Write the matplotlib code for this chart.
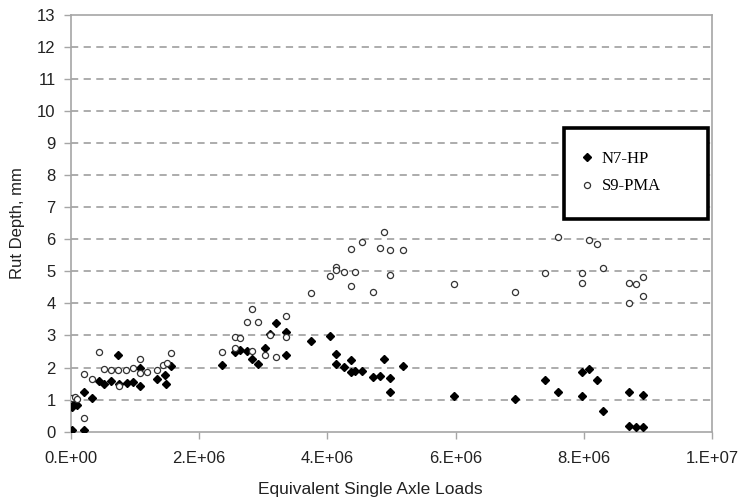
import numpy as np
import matplotlib
matplotlib.use("Agg")
import matplotlib.pyplot as plt
from matplotlib.patches import Rectangle
from matplotlib.ticker import FixedLocator

# ESAL (millions) and rut depth (mm)
n7_esal = [0.02, 0.20, 0.02, 0.05, 0.10, 0.20, 0.32, 0.43, 0.52, 0.63, 0.74,
           0.75, 0.87, 0.97, 1.08, 1.08, 1.34, 1.46, 1.48, 1.56,
           2.35, 2.56, 2.64, 2.74, 2.82, 2.92, 3.03, 3.10, 3.20, 3.35, 3.35,
           3.74, 4.04, 4.13, 4.13, 4.26, 4.37, 4.37, 4.43, 4.54, 4.71, 4.82,
           4.89, 4.97, 4.97, 5.18, 5.98, 6.92, 7.39, 7.59, 7.97, 7.97, 8.08,
           8.20, 8.30, 8.71, 8.93, 8.71, 8.81, 8.93]
n7_rut = [0.05, 0.05, 0.78, 0.85, 0.83, 1.25, 1.06, 1.58, 1.50, 1.58, 2.39,
          1.48, 1.51, 1.54, 1.42, 2.00, 1.63, 1.78, 1.50, 2.05,
          2.08, 2.49, 2.55, 2.52, 2.27, 2.11, 2.60, 3.05, 3.40, 3.12, 2.39,
          2.83, 2.99, 2.43, 2.11, 2.03, 2.22, 1.85, 1.90, 1.90, 1.72, 1.75,
          2.28, 1.66, 1.24, 2.06, 1.11, 1.03, 1.61, 1.24, 1.87, 1.11, 1.94,
          1.61, 0.66, 1.24, 1.15, 0.18, 0.16, 0.14]

s9_esal = [0.02, 0.06, 0.10, 0.20, 0.20, 0.32, 0.43, 0.52, 0.63, 0.74, 0.75,
           0.86, 0.97, 1.08, 1.07, 1.18, 1.34, 1.43, 1.49, 1.56,
           2.35, 2.56, 2.64, 2.56, 2.74, 2.83, 2.92, 2.83, 3.03, 3.10, 3.20,
           3.35, 3.35, 3.74, 4.04, 4.13, 4.13, 4.26, 4.37, 4.37, 4.43, 4.54,
           4.71, 4.82, 4.89, 4.97, 4.97, 5.18, 5.98, 6.93, 7.39, 7.59, 7.97,
           7.97, 8.08, 8.20, 8.30, 8.71, 8.81, 8.93, 8.71, 8.93]
s9_rut = [1.04, 1.07, 1.02, 0.44, 1.79, 1.65, 2.47, 1.95, 1.92, 1.92, 1.43,
          1.92, 2.00, 2.27, 1.84, 1.87, 1.92, 2.09, 2.13, 2.44,
          2.49, 2.94, 2.91, 2.60, 3.43, 3.82, 3.43, 2.52, 2.39, 3.01, 2.32,
          3.62, 2.94, 4.33, 4.85, 5.12, 5.04, 4.98, 5.69, 4.54, 4.98, 5.90,
          4.35, 5.73, 6.21, 5.65, 4.90, 5.65, 4.60, 4.35, 4.96, 6.08, 4.96,
          4.65, 5.97, 5.84, 5.09, 4.65, 4.59, 4.81, 4.00, 4.24]

x_ticks = [0, 2e6, 4e6, 6e6, 8e6, 1e7]
x_tick_labels = ["0.E+00", "2.E+06", "4.E+06", "6.E+06", "8.E+06", "1.E+07"]
y_ticks = list(range(0, 14))

plt.rcParams["font.family"] = ["Liberation Sans", "DejaVu Sans"]

fig = plt.figure(figsize=(7.45, 5.04), dpi=100)
ax = fig.add_axes([0.0953, 0.1435, 0.8604, 0.8273])

grey = "#a6a6a6"
for yv in y_ticks[1:-1]:
    ax.axhline(yv, color=grey, lw=1.3, ls=(0, (4, 3)), zorder=1)

ax.plot(np.array(n7_esal) * 1e6, n7_rut, ls="none", marker="D", ms=3.8,
        mfc="black", mec="black", label="N7-HP", zorder=3)
ax.plot(np.array(s9_esal) * 1e6, s9_rut, ls="none", marker="o", ms=4.4,
        mfc="white", mec="#333333", mew=0.9, label="S9-PMA", zorder=3)

ax.set_xlim(0, 1e7)
ax.set_ylim(0, 13)
ax.xaxis.set_major_locator(FixedLocator(x_ticks))
ax.set_xticklabels(x_tick_labels)
ax.set_yticks(y_ticks)
ax.tick_params(axis="both", direction="out", length=5, width=1, color=grey,
               labelsize=12, labelcolor="#222222")
ax.tick_params(axis="x", pad=9)
ax.tick_params(axis="y", pad=6)
for side in ax.spines.values():
    side.set_color(grey)
    side.set_linewidth(1.2)

# x label sits centred on the figure rather than on the axes
ax.set_xlabel("Equivalent Single Axle Loads", fontsize=12.5, color="#222222")
ax.xaxis.set_label_coords(0.4966, 0.028, transform=fig.transFigure)
ax.xaxis.label.set_va("center")
ax.set_ylabel("Rut Depth, mm", fontsize=12, color="#222222", labelpad=9)

# legend box with heavy black border, drawn separately from the entries
box = Rectangle((0.769, 0.51), 0.225, 0.218, transform=ax.transAxes,
                facecolor="white", edgecolor="black", lw=2.6, zorder=4)
ax.add_patch(box)
leg = ax.legend(loc="upper left", bbox_to_anchor=(0.792, 0.673),
                frameon=False, handlelength=1.0, handletextpad=0.4,
                borderpad=0, borderaxespad=0, labelspacing=0.68,
                prop={"family": "Liberation Serif", "size": 12})
leg.set_zorder(5)

fig.savefig("out.png", dpi=100)
